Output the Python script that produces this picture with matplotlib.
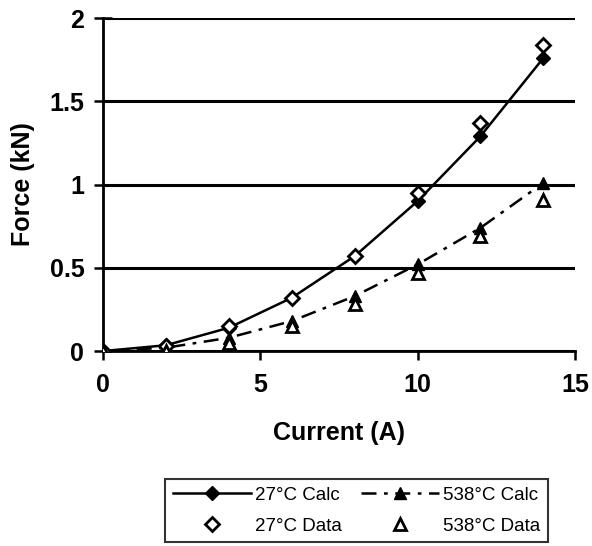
import matplotlib.pyplot as plt
import numpy as np

plt.rcParams['font.family'] = ['Liberation Sans', 'DejaVu Sans']

current = [0, 2, 4, 6, 8, 10, 12, 14]
calc_27 = [0, 0.035, 0.14, 0.32, 0.57, 0.90, 1.29, 1.76]
data_27 = [0, 0.03, 0.15, 0.32, 0.57, 0.95, 1.37, 1.84]
calc_538 = [0, 0.02, 0.08, 0.18, 0.33, 0.52, 0.74, 1.01]
data_538 = [0, 0.0, 0.05, 0.15, 0.28, 0.47, 0.69, 0.91]

fig = plt.figure(figsize=(5.92, 5.46), dpi=100)
ax = fig.add_axes([0.174, 0.357, 0.797, 0.61])

ax.plot(current, calc_27, color='black', lw=1.8, marker='D', ms=7.5,
        mfc='black', mec='black', label='27°C Calc', zorder=3)
ax.plot(current, data_27, ls='none', marker='D', ms=7.5, mfc='white',
        mec='black', mew=2, label='27°C Data', zorder=4)
ax.plot(current, calc_538, color='black', lw=1.8, dashes=(6, 3, 1.5, 3),
        marker='^', ms=9, mfc='black', mec='black', label='538°C Calc', zorder=3)
ax.plot(current, data_538, ls='none', marker='^', ms=8.5, mfc='white',
        mec='black', mew=2, label='538°C Data', zorder=4)

ax.set_xlim(0, 15)
ax.set_ylim(0, 2)
ax.set_xticks([0, 5, 10, 15])
ax.set_yticks([0, 0.5, 1, 1.5, 2])
ax.set_yticklabels(['0', '0.5', '1', '1.5', '2'])
ax.yaxis.grid(True, color='black', lw=2.2)
ax.set_axisbelow(True)
for s in ['top', 'right']:
    ax.spines[s].set_visible(False)
for s in ['left', 'bottom']:
    ax.spines[s].set_linewidth(2)
ax.tick_params(axis='x', direction='out', length=6.5, width=1.8,
               labelsize=18, pad=9)
ax.tick_params(axis='y', direction='inout', length=13, width=1.8,
               labelsize=18, pad=7)
for lab in ax.get_xticklabels() + ax.get_yticklabels():
    lab.set_fontweight('bold')

ax.set_xlabel('Current (A)', fontsize=18, fontweight='bold', va='center')
ax.xaxis.set_label_coords(0.5, -0.246)
ax.set_ylabel('Force (kN)', fontsize=18, fontweight='bold', va='center')
ax.yaxis.set_label_coords(-0.17, 0.5)

h, l = ax.get_legend_handles_labels()
leg = fig.legend(h, l, ncol=2, loc='upper left',
                 bbox_to_anchor=(165 / 592, 1 - 479 / 546),
                 fontsize=13.5, frameon=True, fancybox=False, edgecolor='black',
                 handlelength=4.2, handletextpad=0.2, columnspacing=1.0,
                 borderpad=0.4, borderaxespad=0, labelspacing=0.75)
leg.get_frame().set_linewidth(1.5)

fig.savefig('out.png', dpi=100)
